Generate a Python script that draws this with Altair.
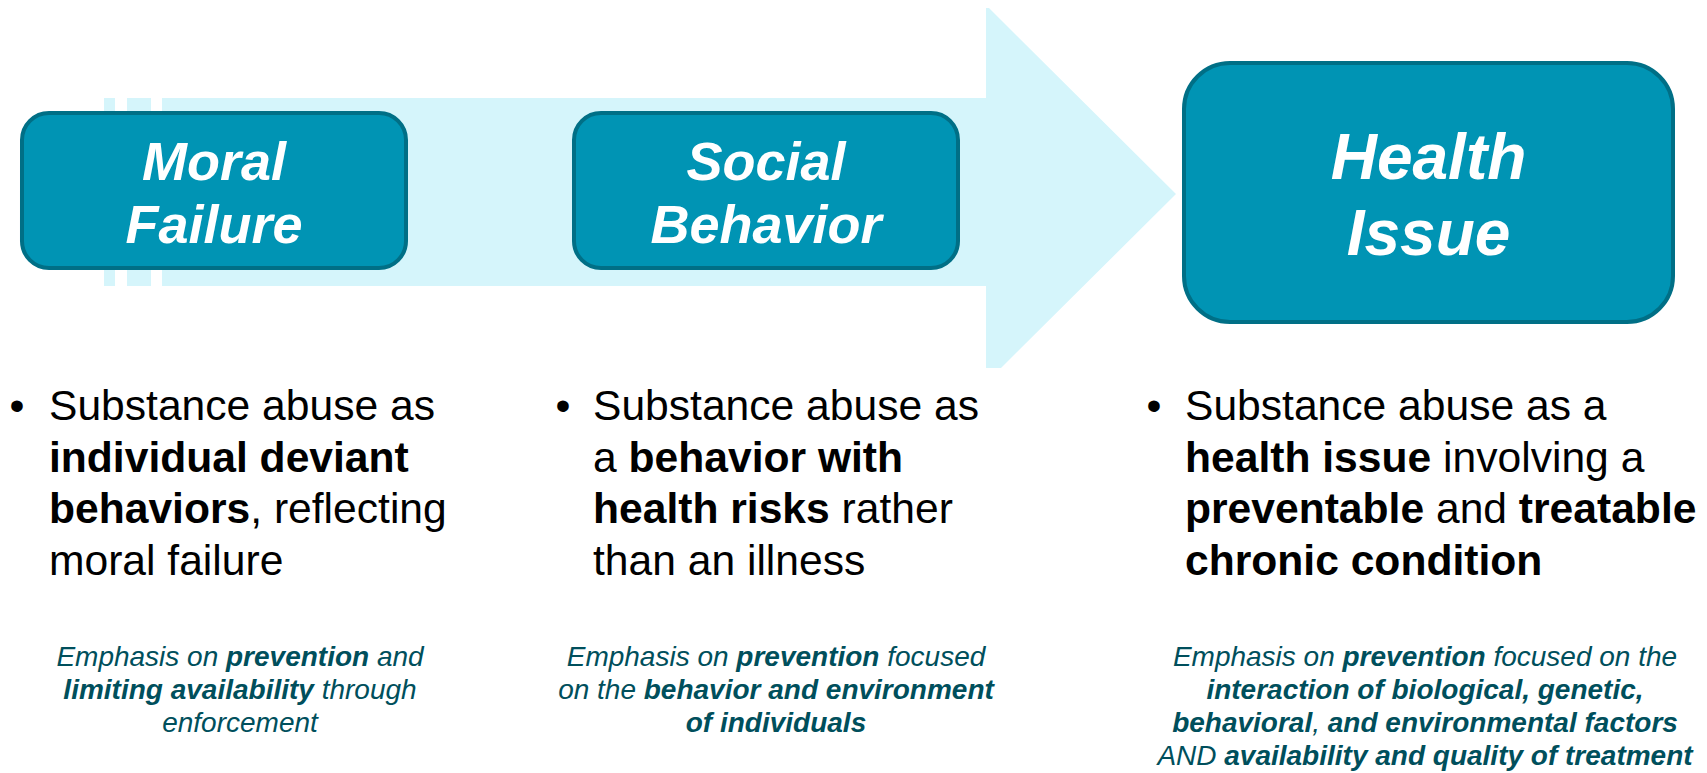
import altair as alt
import pandas as pd

# ---------------- shapes (positions, in pixels) ----------------
arrow_body_x = [104, 986]
arrow_body_y = [98, 286]
arrow_head_x = [986, 1001, 1176]
arrow_head_top = [5, 20, 194]
arrow_head_bottom = [368, 368, 194]
stripe_x1 = [115, 151]
stripe_x2 = [127, 162]

box_names = ["Moral", "Social", "Health"]
box_x1 = [22, 574, 1184]
box_x2 = [406, 958, 1673]
box_y1 = [113, 113, 63]
box_y2 = [268, 268, 322]

# ---------------- texts ----------------
box_label_lines = [["Moral", "Failure"], ["Social", "Behavior"], ["Health", "Issue"]]
box_label_size = [54, 54, 64]
box_label_baselines = [[180, 243], [180, 243], [179, 255]]

bullet_lines = [
    [[("Substance abuse as", False)],
     [("individual deviant", True)],
     [("behaviors", True), (", reflecting", False)],
     [("moral failure", False)]],
    [[("Substance abuse as", False)],
     [("a ", False), ("behavior with", True)],
     [("health risks", True), (" rather", False)],
     [("than an illness", False)]],
    [[("Substance abuse as a", False)],
     [("health issue", True), (" involving a", False)],
     [("preventable", True), (" and ", False), ("treatable", True)],
     [("chronic condition", True)]],
]
bullet_dot_x = [17, 563, 1154]
bullet_text_x = [49, 593, 1185]
bullet_first_baseline = 420
bullet_step = 51.5
bullet_size = 42.6

emph_lines = [
    [[("Emphasis on ", False), ("prevention", True), (" and", False)],
     [("limiting availability", True), (" through", False)],
     [("enforcement", False)]],
    [[("Emphasis on ", False), ("prevention", True), (" focused", False)],
     [("on the ", False), ("behavior and environment", True)],
     [("of individuals", True)]],
    [[("Emphasis on ", False), ("prevention", True), (" focused on the", False)],
     [("interaction of biological, genetic,", True)],
     [("behavioral", True), (", ", False), ("and environmental factors", True)],
     [("AND ", False), ("availability and quality of treatment", True)]],
]
emph_center_x = [240, 776, 1425]
emph_first_baseline = 666
emph_step = 33
emph_size = 28

# ---------------- colours ----------------
ARROW = "#D5F5FB"
BOX_FILL = "#0094B4"
BOX_STROKE = "#006F86"
EMPH = "#004F5C"
FONT = "Liberation Sans"

# ---------------- font metrics (Arial / Liberation Sans advance widths) ----------------
REG = dict(zip("abcdefghijklmnopqrstuvwxyz",
               [556, 556, 500, 556, 556, 278, 556, 556, 222, 222, 500, 222, 833,
                556, 556, 556, 556, 333, 500, 278, 556, 500, 722, 500, 500, 500]))
REG.update(zip("ABCDEFGHIJKLMNOPQRSTUVWXYZ",
               [667, 667, 722, 722, 667, 611, 778, 722, 278, 500, 667, 556, 833,
                722, 778, 667, 778, 722, 667, 611, 722, 667, 944, 667, 667, 611]))
REG.update({" ": 278, ",": 278, ".": 278})
BOLD = dict(zip("abcdefghijklmnopqrstuvwxyz",
                [556, 611, 556, 611, 556, 333, 611, 611, 278, 278, 556, 278, 889,
                 611, 611, 611, 611, 389, 556, 333, 611, 556, 778, 556, 556, 500]))
BOLD.update(zip("ABCDEFGHIJKLMNOPQRSTUVWXYZ",
                [722, 722, 722, 722, 667, 611, 778, 722, 278, 556, 722, 611, 833,
                 722, 778, 667, 778, 722, 667, 611, 722, 667, 944, 667, 667, 611]))
BOLD.update({" ": 278, ",": 278, ".": 278})


def seg_width(s, bold, size):
    table = BOLD if bold else REG
    return sum(table.get(c, 556) for c in s) * size / 1000.0


def place(lines, size, y0, step, left=None, center=None):
    rows = []
    for i, segs in enumerate(lines):
        total = sum(seg_width(s, b, size) for s, b in segs)
        x = left if left is not None else center - total / 2.0
        y = y0 + i * step
        for s, b in segs:
            lead = len(s) - len(s.lstrip(" "))
            rows.append({"t": s.strip(), "x": x + seg_width(" " * lead, b, size),
                         "y": y, "bold": b})
            x += seg_width(s, b, size)
    return rows


# ---------------- tables ----------------
body_df = pd.DataFrame({"x": [arrow_body_x[0]], "x2": [arrow_body_x[1]],
                        "y": [arrow_body_y[0]], "y2": [arrow_body_y[1]]})
head_df = pd.DataFrame({"x": arrow_head_x, "y": arrow_head_top, "y2": arrow_head_bottom})
stripe_df = pd.DataFrame({"x": stripe_x1, "x2": stripe_x2,
                          "y": [arrow_body_y[0]] * 2, "y2": [arrow_body_y[1]] * 2})
box_df = pd.DataFrame({"name": box_names, "x": box_x1, "x2": box_x2, "y": box_y1, "y2": box_y2})

label_rows = []
for i, lines in enumerate(box_label_lines):
    cx = (box_x1[i] + box_x2[i]) / 2.0
    for j, line in enumerate(lines):
        label_rows.append({"t": line, "x": cx, "y": box_label_baselines[i][j],
                           "s": box_label_size[i]})
label_df = pd.DataFrame(label_rows)

bullet_rows = []
dot_rows = []
for i, lines in enumerate(bullet_lines):
    bullet_rows += place(lines, bullet_size, bullet_first_baseline, bullet_step,
                         left=bullet_text_x[i])
    dot_rows.append({"t": "\u2022", "x": bullet_dot_x[i], "y": bullet_first_baseline})
bullet_df = pd.DataFrame(bullet_rows)
dot_df = pd.DataFrame(dot_rows)

emph_rows = []
for i, lines in enumerate(emph_lines):
    emph_rows += place(lines, emph_size, emph_first_baseline, emph_step,
                       center=emph_center_x[i])
emph_df = pd.DataFrame(emph_rows)

# ---------------- scales ----------------
# the chart starts at the page's 8px margin and runs to the bottom of the window
W, H = 1691, 765
xs = alt.Scale(domain=[8, 8 + W], nice=False, zero=False)
ys = alt.Scale(domain=[8, 8 + H], nice=False, zero=False, reverse=True)


def X(f):
    return alt.X(f, type="quantitative", scale=xs, axis=None)


def Y(f):
    return alt.Y(f, type="quantitative", scale=ys, axis=None)


body = alt.Chart(body_df).mark_rect(color=ARROW).encode(
    x=X("x"), x2="x2", y=Y("y"), y2="y2")
head = alt.Chart(head_df).mark_area(color=ARROW, opacity=1, clip=True).encode(
    x=X("x"), y=Y("y"), y2="y2")
stripes = alt.Chart(stripe_df).mark_rect(color="white").encode(
    x=X("x"), x2="x2", y=Y("y"), y2="y2")

small_boxes = alt.Chart(box_df).transform_filter(alt.datum.name != "Health").mark_rect(
    fill=BOX_FILL, stroke=BOX_STROKE, strokeWidth=4, cornerRadius=27).encode(
    x=X("x"), x2="x2", y=Y("y"), y2="y2")
big_box = alt.Chart(box_df).transform_filter(alt.datum.name == "Health").mark_rect(
    fill=BOX_FILL, stroke=BOX_STROKE, strokeWidth=4, cornerRadius=46).encode(
    x=X("x"), x2="x2", y=Y("y"), y2="y2")

labels = alt.Chart(label_df).mark_text(
    font=FONT, fontWeight="bold", fontStyle="italic", color="white",
    align="center", baseline="alphabetic").encode(
    x=X("x"), y=Y("y"), text="t:N", size=alt.Size("s:Q", scale=None))

bullet_reg = alt.Chart(bullet_df).transform_filter(alt.datum.bold == False).mark_text(
    font=FONT, fontSize=bullet_size, color="black", align="left", baseline="alphabetic").encode(
    x=X("x"), y=Y("y"), text="t:N")
bullet_bold = alt.Chart(bullet_df).transform_filter(alt.datum.bold == True).mark_text(
    font=FONT, fontSize=bullet_size, fontWeight="bold", color="black", align="left",
    baseline="alphabetic").encode(
    x=X("x"), y=Y("y"), text="t:N")
dots = alt.Chart(dot_df).mark_text(
    font=FONT, fontSize=bullet_size, color="black", align="center", baseline="alphabetic").encode(
    x=X("x"), y=Y("y"), text="t:N")

emph_reg = alt.Chart(emph_df).transform_filter(alt.datum.bold == False).mark_text(
    font=FONT, fontSize=emph_size, fontStyle="italic", color=EMPH, align="left",
    baseline="alphabetic").encode(
    x=X("x"), y=Y("y"), text="t:N")
emph_bold = alt.Chart(emph_df).transform_filter(alt.datum.bold == True).mark_text(
    font=FONT, fontSize=emph_size, fontStyle="italic", fontWeight="bold", color=EMPH,
    align="left", baseline="alphabetic").encode(
    x=X("x"), y=Y("y"), text="t:N")

chart = alt.layer(
    body, head, stripes, small_boxes, big_box, labels,
    bullet_reg, bullet_bold, dots, emph_reg, emph_bold
).properties(
    width=W, height=H, padding=0,
    autosize=alt.AutoSizeParams(type="none"),
).configure_view(stroke=None)

chart.save("out.html", embed_options={"renderer": "svg", "actions": False})
